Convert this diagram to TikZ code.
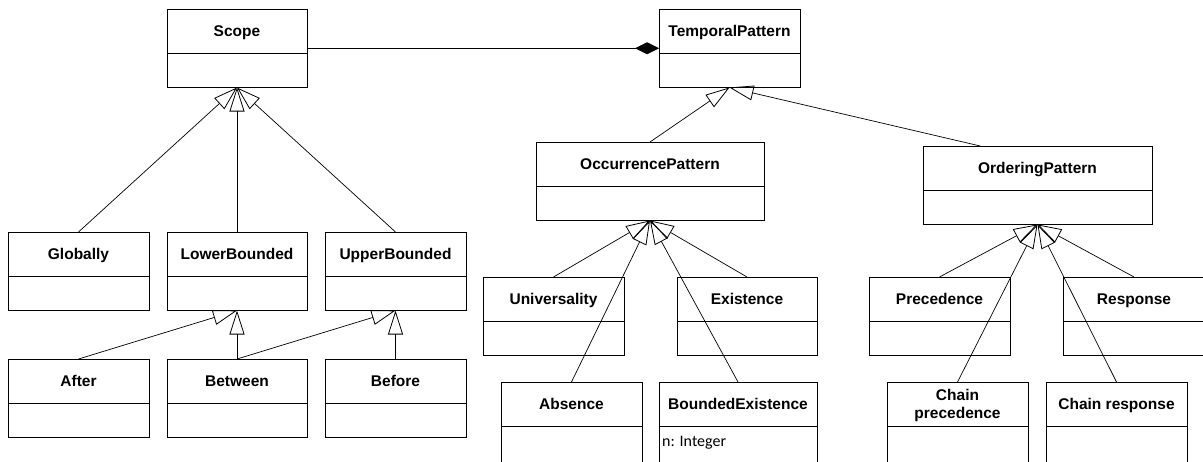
\documentclass[tikz,border=0pt]{standalone}
\usepackage{fontspec}
\newfontfamily\umlfont{Liberation Sans}
\newfontfamily\attrfont{Carlito}
\usetikzlibrary{arrows.meta,calc}

\tikzset{
  classbox/.style={draw, line width=0.9pt, minimum height=78.5pt, inner sep=0pt, outer sep=0pt},
  divider/.style={line width=0.9pt},
  classname/.style={font=\umlfont\bfseries\fontsize{15.5}{18}\selectfont, inner sep=0pt, align=center},
  attrtext/.style={font=\attrfont\fontsize{16}{19}\selectfont, inner sep=0pt},
  gen/.style={line width=0.7pt, -{Triangle[open, length=24pt, width=15pt, line width=0.8pt]}},
  compo/.style={line width=0.8pt, -{Diamond[length=24pt, width=12pt]}},
}

% [#1 box height] #2 node name, #3 left, #4 top, #5 width, #6 class name
\newcommand\umlclass[6][78.5]{%
  \node[classbox, minimum width=#5pt, minimum height=#1pt, anchor=north west] (#2) at (#3,#4) {};
  \draw[divider] ([yshift=-44pt]#2.north west) -- ([yshift=-44pt]#2.north east);
  \node[classname, anchor=base] (#2-name) at ([yshift=-27.5pt]#2.north) {#6};
}

\begin{document}
\begin{tikzpicture}[x=1pt, y=-1pt]
  \useasboundingbox (0,0) rectangle (1203,461);

  % scopes
  \umlclass{Scope}{167}{9}{140}{Scope}
  \umlclass{Globally}{8}{232}{141}{Globally}
  \umlclass{LowerBounded}{167}{232}{140}{LowerBounded}
  \umlclass{UpperBounded}{325}{232}{141}{UpperBounded}
  \umlclass{After}{8}{359}{141}{After}
  \umlclass{Between}{167}{359}{140}{Between}
  \umlclass{Before}{325}{359}{141}{Before}

  % patterns
  \umlclass{TemporalPattern}{659}{9}{141}{TemporalPattern}
  \umlclass{OccurrencePattern}{536}{142}{228}{OccurrencePattern}
  \umlclass{OrderingPattern}{923}{146}{229}{OrderingPattern}
  \umlclass{Universality}{483}{277}{141}{Universality}
  \umlclass{Existence}{677}{277}{140}{Existence}
  \umlclass[90]{Absence}{501}{382}{141}{Absence}
  \umlclass[90]{BoundedExistence}{659}{382}{158}{BoundedExistence}
  \node[attrtext, anchor=west] (BoundedExistence-attr)
       at ([xshift=3pt, yshift=-61pt]BoundedExistence.north west) {n: Integer};
  \umlclass{Precedence}{869}{277}{141}{Precedence}
  \umlclass{Response}{1063}{277}{142}{Response}
  \umlclass[90]{ChainPrecedence}{887}{382}{141}{}
  \node[classname] (ChainPrecedence-label)
       at ([yshift=-23.5pt]ChainPrecedence.north) {Chain\\precedence};
  \umlclass[90]{ChainResponse}{1046}{382}{141}{Chain response}

  % composition
  \draw[compo] (Scope.east) -- (TemporalPattern.west);

  % generalisations
  \draw[gen] (Globally.north) -- (Scope.south);
  \draw[gen] (LowerBounded.north) -- (Scope.south);
  \draw[gen] (UpperBounded.north) -- (Scope.south);
  \draw[gen] (After.north) -- (LowerBounded.south);
  \draw[gen] (Between.north) -- (LowerBounded.south);
  \draw[gen] (Between.north) -- (UpperBounded.south);
  \draw[gen] (Before.north) -- (UpperBounded.south);

  \draw[gen] (OccurrencePattern.north) -- (TemporalPattern.south);
  \draw[gen] ($(OrderingPattern.north west)!0.25!(OrderingPattern.north east)$) -- (TemporalPattern.south);

  \draw[gen] (Universality.north) -- (OccurrencePattern.south);
  \draw[gen] (Existence.north) -- (OccurrencePattern.south);
  \draw[gen] (Absence.north) -- (OccurrencePattern.south);
  \draw[gen] (BoundedExistence.north) -- (OccurrencePattern.south);

  \draw[gen] (Precedence.north) -- (OrderingPattern.south);
  \draw[gen] (Response.north) -- (OrderingPattern.south);
  \draw[gen] (ChainPrecedence.north) -- (OrderingPattern.south);
  \draw[gen] (ChainResponse.north) -- (OrderingPattern.south);
\end{tikzpicture}
\end{document}
